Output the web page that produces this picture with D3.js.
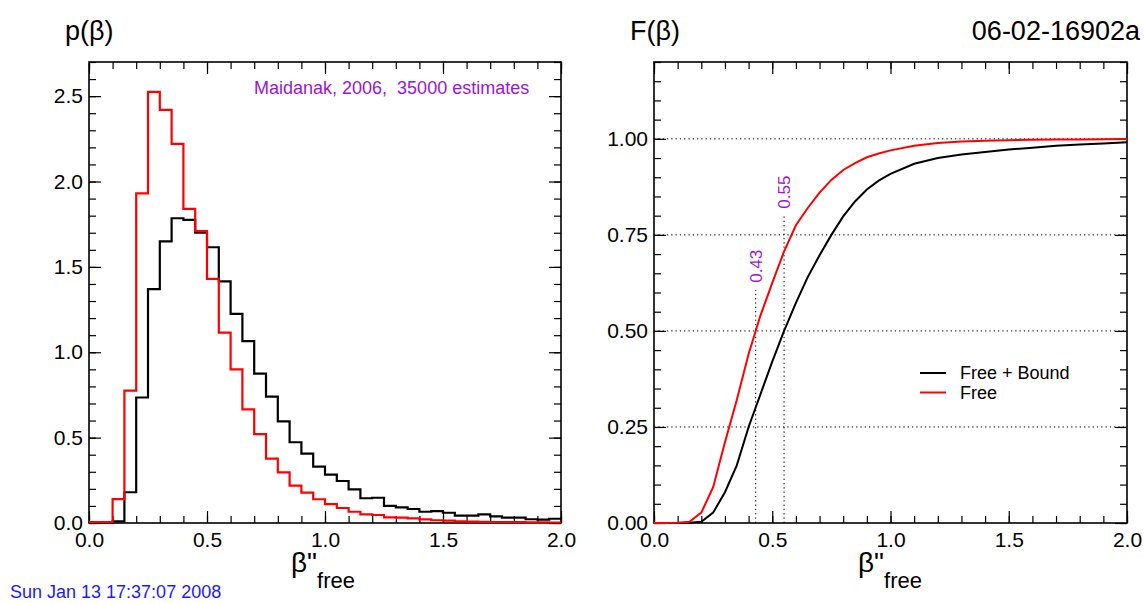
<!DOCTYPE html>
<html><head><meta charset="utf-8">
<script src="https://cdn.jsdelivr.net/npm/d3@7"></script>
<style>
body{margin:0;background:#fff}
svg{display:block}
text{font-family:"Liberation Sans",Arial,Helvetica,sans-serif;white-space:pre}
</style>
</head><body>
<svg id="c" width="1144" height="603"></svg>
<script>
// ---------------- data ----------------
const binLeft = [0.00,0.05,0.10,0.15,0.20,0.25,0.30,0.35,0.40,0.45,0.50,0.55,0.60,0.65,0.70,0.75,0.80,0.85,0.90,0.95,
                 1.00,1.05,1.10,1.15,1.20,1.25,1.30,1.35,1.40,1.45,1.50,1.55,1.60,1.65,1.70,1.75,1.80,1.85,1.90,1.95];
const binWidth = 0.05;
const histFreeBound = [0.0,0.0,0.01,0.18,0.735,1.37,1.65,1.785,1.775,1.70,1.615,1.415,1.225,1.065,0.875,0.74,0.595,0.473,0.406,0.33,
                       0.283,0.246,0.197,0.145,0.148,0.10,0.092,0.082,0.066,0.07,0.06,0.043,0.043,0.051,0.039,0.031,0.031,0.022,0.02,0.025];
const histFree = [0.005,0.005,0.14,0.775,1.93,2.525,2.42,2.22,1.84,1.71,1.43,1.115,0.90,0.666,0.52,0.377,0.297,0.219,0.178,0.139,
                  0.111,0.088,0.066,0.051,0.047,0.033,0.031,0.027,0.021,0.016,0.014,0.01,0.008,0.007,0.006,0.005,0.005,0.004,0.004,0.003];

const cdfX = [0,0.05,0.10,0.15,0.20,0.25,0.30,0.35,0.40,0.45,0.50,0.55,0.60,0.65,0.70,0.75,0.80,0.85,0.90,0.95,1.0,
              1.1,1.2,1.3,1.4,1.5,1.6,1.7,1.8,1.9,2.0];
const cdfFreeBound = [0,0,0,0.0005,0.003,0.027,0.08,0.15,0.25,0.335,0.42,0.50,0.573,0.64,0.697,0.75,0.798,0.837,0.868,0.891,0.909,
                      0.935,0.95,0.959,0.966,0.972,0.977,0.982,0.985,0.988,0.991];
const cdfFree = [0,0,0.0005,0.003,0.027,0.093,0.21,0.32,0.44,0.54,0.625,0.707,0.775,0.82,0.86,0.893,0.919,0.937,0.952,0.962,0.97,
                 0.982,0.989,0.993,0.995,0.9965,0.9975,0.998,0.9985,0.999,0.9993];

const medians = [0.43, 0.55];
const medianLabels = ["0.43", "0.55"];
const medianLineTop = [0.607, 0.80];

const xMajor = [0, 0.5, 1.0, 1.5, 2.0];
const yMajorLeft = [0, 0.5, 1.0, 1.5, 2.0, 2.5];
const yMajorRight = [0, 0.25, 0.5, 0.75, 1.0];
const gridRight = [0.25, 0.5, 0.75, 1.0];

const seriesNames = ["Free + Bound", "Free"];
const seriesColors = ["#000000", "#ff0000"];

// ---------------- layout ----------------
const svg = d3.select("#c");
const purple = "#9b16d4";
const L = {x0: 89, x1: 561, y0: 62, y1: 523};
const R = {x0: 654, x1: 1127, y0: 62, y1: 523};

const xL = d3.scaleLinear().domain([0, 2]).range([L.x0, L.x1]);
const yL = d3.scaleLinear().domain([0, 2.7]).range([L.y1, L.y0]);
const xR = d3.scaleLinear().domain([0, 2]).range([R.x0, R.x1]);
const yR = d3.scaleLinear().domain([0, 1.2]).range([R.y1, R.y0]);

function frameAxes(P, x, y, yMajor, yMinorStep, yFmt) {
  const g = svg.append("g");
  const xMinor = d3.range(0, 2.0001, 0.1);
  const yMinor = d3.range(0, y.domain()[1] + 1e-6, yMinorStep);
  const style = s => s.call(a => a.select(".domain").remove())
                      .call(a => a.selectAll(".tick line").attr("stroke", "#000").attr("stroke-width", 1.2));
  g.append("g").attr("transform", `translate(0,${P.y1})`).call(d3.axisBottom(x).tickValues(xMinor).tickSize(-7).tickFormat("")).call(style);
  g.append("g").attr("transform", `translate(0,${P.y0})`).call(d3.axisTop(x).tickValues(xMinor).tickSize(-7).tickFormat("")).call(style);
  g.append("g").attr("transform", `translate(${P.x0},0)`).call(d3.axisLeft(y).tickValues(yMinor).tickSize(-7).tickFormat("")).call(style);
  g.append("g").attr("transform", `translate(${P.x1},0)`).call(d3.axisRight(y).tickValues(yMinor).tickSize(-7).tickFormat("")).call(style);
  g.append("g").attr("transform", `translate(0,${P.y1})`)
    .call(d3.axisBottom(x).tickValues(xMajor).tickSize(-12).tickPadding(9).tickFormat(d3.format(".1f"))).call(style);
  g.append("g").attr("transform", `translate(0,${P.y0})`).call(d3.axisTop(x).tickValues(xMajor).tickSize(-12).tickFormat("")).call(style);
  g.append("g").attr("transform", `translate(${P.x0},0)`)
    .call(d3.axisLeft(y).tickValues(yMajor).tickSize(-12).tickPadding(6).tickFormat(d3.format(yFmt))).call(style);
  g.append("g").attr("transform", `translate(${P.x1},0)`).call(d3.axisRight(y).tickValues(yMajor).tickSize(-12).tickFormat("")).call(style);
  g.selectAll("text").attr("font-size", 21).attr("fill", "#000").attr("font-family", '"Liberation Sans",Arial,sans-serif');
  svg.append("rect").attr("x", P.x0).attr("y", P.y0).attr("width", P.x1 - P.x0).attr("height", P.y1 - P.y0)
    .attr("fill", "none").attr("stroke", "#000").attr("stroke-width", 1.6);
}

// ---------------- left: histograms ----------------
frameAxes(L, xL, yL, yMajorLeft, 0.1, ".1f");

function histPath(vals) {
  const pts = vals.map((v, i) => [binLeft[i], v]);
  pts.push([binLeft[binLeft.length - 1] + binWidth, vals[vals.length - 1]]);
  return d3.line().x(d => xL(d[0])).y(d => yL(d[1])).curve(d3.curveStepAfter)(pts);
}
svg.append("path").attr("d", histPath(histFreeBound)).attr("fill", "none").attr("stroke", seriesColors[0]).attr("stroke-width", 2.2);
svg.append("path").attr("d", histPath(histFree)).attr("fill", "none").attr("stroke", seriesColors[1]).attr("stroke-width", 2.2);

svg.append("text").attr("x", 254).attr("y", 94).attr("font-size", 18).attr("fill", purple)
  .attr("xml:space", "preserve")
  .text("Maidanak, 2006,  35000 estimates");

// ---------------- right: CDFs ----------------
svg.append("g").selectAll("line").data(gridRight).join("line")
  .attr("x1", xR(0)).attr("x2", xR(2)).attr("y1", d => yR(d)).attr("y2", d => yR(d))
  .attr("stroke", "#000").attr("stroke-width", 1).attr("stroke-dasharray", "1.3,3");
frameAxes(R, xR, yR, yMajorRight, 0.05, ".2f");

svg.append("g").selectAll("line").data(medians).join("line")
  .attr("x1", d => xR(d)).attr("x2", d => xR(d)).attr("y1", yR(0)).attr("y2", (d, i) => yR(medianLineTop[i]))
  .attr("stroke", "#000").attr("stroke-width", 1).attr("stroke-dasharray", "1.3,3");
svg.append("g").selectAll("text").data(medians).join("text")
  .attr("transform", (d, i) => `translate(${xR(d)},${yR(medianLineTop[i]) - 7}) rotate(-90)`)
  .attr("dy", "0.36em").attr("font-size", 17).attr("fill", purple)
  .text((d, i) => medianLabels[i]);

const cdfLine = d3.line().x((d, i) => xR(cdfX[i])).y(d => yR(d));
svg.append("path").attr("d", cdfLine(cdfFreeBound)).attr("fill", "none").attr("stroke", seriesColors[0]).attr("stroke-width", 2);
svg.append("path").attr("d", cdfLine(cdfFree)).attr("fill", "none").attr("stroke", seriesColors[1]).attr("stroke-width", 2);

const lg = svg.append("g").selectAll("g").data(seriesNames).join("g")
  .attr("transform", (d, i) => `translate(920,${373 + i * 19.5})`);
lg.append("line").attr("x1", 0).attr("x2", 26).attr("stroke", (d, i) => seriesColors[i]).attr("stroke-width", 2);
lg.append("text").attr("x", 40).attr("dy", "0.36em").attr("font-size", 18).attr("fill", "#000").text(d => d);

// ---------------- titles ----------------
svg.append("text").attr("x", 65).attr("y", 40).attr("font-size", 27).text("p(β)");
svg.append("text").attr("x", 630).attr("y", 40).attr("font-size", 27).text("F(β)");
svg.append("text").attr("x", 1140).attr("y", 40).attr("font-size", 27).attr("text-anchor", "end").text("06-02-16902a");

function axisTitle(cx) {
  const t = svg.append("text").attr("x", cx).attr("y", 572).attr("text-anchor", "middle");
  t.append("tspan").attr("font-size", 28).text("β\"");
  t.append("tspan").attr("font-size", 22).attr("dy", 16).text("free");
}
axisTitle(323);
axisTitle(890);

svg.append("text").attr("x", 10).attr("y", 598).attr("font-size", 18).attr("fill", "#1a1aff").text("Sun Jan 13 17:37:07 2008");
</script>
</body></html>
